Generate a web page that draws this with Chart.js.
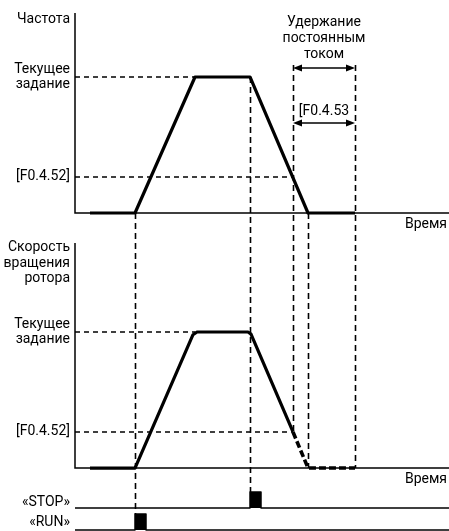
<!DOCTYPE html>
<html>
<head>
<meta charset="utf-8">
<script src="https://cdn.jsdelivr.net/npm/chart.js@4.4.1/dist/chart.umd.min.js"></script>
<style>
	html, body { margin: 0; padding: 0; background: #fff; }
	canvas { display: block; }
</style>
</head>
<body>
<canvas id="diagram" width="449" height="531"></canvas>
<script>
/* Frequency / rotor speed diagram with DC hold — Chart.js */
/* global Chart */

(function () {
	'use strict';

	// ── Data ─────────────────────────────────────────────────────────────────

	var T_END = 37.4; // right end of the time axis

	// Output frequency.
	var freqT = [1.5, 6, 12, 17.5, 23.3, 28];
	var freqV = [0, 0, 1, 1, 0, 0];

	// Rotor speed: driven part, then coasting + DC hold.
	var speedT = [1.5, 6, 11.8, 12.2, 17.3, 17.6, 21.8];
	var speedV = [0, 0, 0.98, 1, 1, 0.985, 0.265];
	var coastT = [21.8, 23.3, 28];
	var coastV = [0.265, 0, 0];

	// Reference levels and where their dashed guides end.
	var levelSet   = 1;      // Текущее задание
	var levelF0452 = 0.265;  // [F0.4.52]
	var setEndT    = 12;
	var f0452EndT  = 21.8;

	// Commands.
	var stopT = [0, 17.5, 17.5, 18.6, 18.6, T_END];
	var stopV = [1.375, 1.375, 2.375, 2.375, 1.375, 1.375];
	var runT  = [0, 6, 6, 7.1, 7.1, T_END];
	var runV  = [0, 0, 1, 1, 0, 0];

	// Axis labels (tick value → text).
	var freqTicks   = [1.42, 1, 0.265];
	var freqLabels  = ['Частота', ['Текущее', 'задание'], '[F0.4.52]'];
	var speedTicks  = [1.507, 1, 0.265];
	var speedLabels = [['Скорость', 'вращения', 'ротора'], ['Текущее', 'задание'], '[F0.4.52]'];
	var cmdTicks    = [1.69, 0.44];
	var cmdLabels   = ['«STOP»', '«RUN»'];

	// Vertical dashed event markers.
	var markerT    = [6, 17.5, 21.8, 23.3, 28];
	var markerFrom = [['yF', 0], ['yF', 1], ['yF', 1.088], ['yF', 0], ['yF', 1.088]];
	var markerTo   = [['yC', 1], ['yC', 2.375], ['yS', 0.265], ['yS', 0], ['yS', 0]];

	// DC hold interval arrows.
	var holdT      = [21.8, 28];
	var holdArrowV = [1.066, 0.662];

	// ── Helpers ──────────────────────────────────────────────────────────────

	var FONT = 'Roboto, "DejaVu Sans Condensed", sans-serif';

	function pts(xs, ys) {
		return xs.map(function (x, i) { return { x: x, y: ys[i] }; });
	}

	function line(axis, data, width, dash, extra) {
		var ds = {
			data: data,
			yAxisID: axis,
			borderColor: '#000',
			backgroundColor: '#000',
			borderWidth: width,
			borderDash: dash || [],
			pointRadius: 0,
			tension: 0,
			fill: false,
			borderJoinStyle: 'round'
		};
		for (var k in extra || {}) ds[k] = extra[k];
		return ds;
	}

	function yAxis(weight, stackWeight, min, max, ticks, labels) {
		return {
			type: 'linear',
			position: 'left',
			stack: 'panels',
			stackWeight: stackWeight,
			weight: weight,
			min: min,
			max: max,
			grid: { display: false, drawTicks: false },
			border: { display: false },
			afterFit: function (scale) {
				// Fixed gutter, and no extra room for the end labels.
				scale.width = 75;
				scale.paddingTop = 0;
				scale.paddingBottom = 0;
			},
			afterBuildTicks: function (scale) {
				scale.ticks = ticks.map(function (v) { return { value: v }; });
			},
			ticks: {
				autoSkip: false,
				padding: 5,
				color: '#000',
				font: { family: FONT, size: 14, lineHeight: 1.1 },
				callback: function (value) {
					var i = ticks.indexOf(value);
					return i === -1 ? '' : labels[i];
				}
			}
		};
	}

	function arrowHead(ctx, x, y, dir) {
		ctx.beginPath();
		ctx.moveTo(x, y);
		ctx.lineTo(x - dir * 9, y - 3.5);
		ctx.lineTo(x - dir * 9, y + 3.5);
		ctx.closePath();
		ctx.fill();
	}

	// ── Frames, markers, annotations ─────────────────────────────────────────

	var diagramPlugin = {
		id: 'diagram',
		beforeDatasetsDraw: function (chart) {
			var ctx = chart.ctx, sx = chart.scales.x, area = chart.chartArea;
			ctx.save();
			ctx.strokeStyle = '#000';

			// Panel axes.
			ctx.lineWidth = 1.5;
			[['yF', 1.47], ['yS', 1.654]].forEach(function (p) {
				var s = chart.scales[p[0]];
				var y0 = s.getPixelForValue(0);
				ctx.beginPath();
				ctx.moveTo(area.left, s.getPixelForValue(p[1]));
				ctx.lineTo(area.left, y0);
				ctx.lineTo(area.right, y0);
				ctx.stroke();
			});

			// Event markers.
			ctx.lineWidth = 1.6;
			ctx.setLineDash([6, 4]);
			markerT.forEach(function (t, i) {
				var x = Math.round(sx.getPixelForValue(t)) + 0.5;
				ctx.beginPath();
				ctx.moveTo(x, chart.scales[markerFrom[i][0]].getPixelForValue(markerFrom[i][1]));
				ctx.lineTo(x, chart.scales[markerTo[i][0]].getPixelForValue(markerTo[i][1]));
				ctx.stroke();
			});
			ctx.restore();
		},
		afterDatasetsDraw: function (chart) {
			var ctx = chart.ctx, sx = chart.scales.x, area = chart.chartArea;
			var yF = chart.scales.yF, yS = chart.scales.yS;
			var x1 = sx.getPixelForValue(holdT[0]), x2 = sx.getPixelForValue(holdT[1]);
			ctx.save();
			ctx.fillStyle = '#000';
			ctx.strokeStyle = '#000';
			ctx.lineWidth = 1.5;

			holdArrowV.forEach(function (v) {
				var y = yF.getPixelForValue(v);
				ctx.beginPath();
				ctx.moveTo(x1 + 4, y);
				ctx.lineTo(x2 - 4, y);
				ctx.stroke();
				arrowHead(ctx, x1, y, -1);
				arrowHead(ctx, x2, y, 1);
			});

			ctx.font = '14px ' + FONT;
			ctx.textBaseline = 'middle';
			ctx.textAlign = 'center';
			var cx = (x1 + x2) / 2;
			ctx.fillText('Удержание', cx, 22);
			ctx.fillText('постоянным', cx, 38);
			ctx.fillText('током', cx, 54);
			ctx.fillText('[F0.4.53', cx, yF.getPixelForValue(holdArrowV[1]) - 11);

			ctx.textAlign = 'right';
			ctx.fillText('Время', area.right - 2, yF.getPixelForValue(0) + 12);
			ctx.fillText('Время', area.right - 2, yS.getPixelForValue(0) + 11);
			ctx.restore();
		}
	};

	// ── Chart ────────────────────────────────────────────────────────────────

	new Chart(document.getElementById('diagram'), {
		type: 'line',
		data: {
			datasets: [
				line('yF', pts(freqT, freqV), 3.2),
				line('yF', pts([0, setEndT], [levelSet, levelSet]), 1.6, [5, 4]),
				line('yF', pts([0, f0452EndT], [levelF0452, levelF0452]), 1.6, [5, 4]),
				line('yS', pts(speedT, speedV), 3.2),
				line('yS', pts(coastT, coastV), 3.6, [7, 3]),
				line('yS', pts([0, setEndT], [levelSet, levelSet]), 1.6, [5, 4]),
				line('yS', pts([0, f0452EndT], [levelF0452, levelF0452]), 1.6, [5, 4]),
				line('yC', pts(stopT, stopV), 1.5, null, { fill: { value: 1.375 } }),
				line('yC', pts(runT, runV), 1.5, null, { fill: { value: 0 } })
			]
		},
		options: {
			responsive: false,
			devicePixelRatio: 1,
			animation: false,
			layout: { padding: 0 },
			plugins: { legend: { display: false }, tooltip: { enabled: false } },
			scales: {
				x: { type: 'linear', min: 0, max: T_END, display: false },
				yF: yAxis(3, 230, -0.125, 1.566, freqTicks, freqLabels),
				yS: yAxis(2, 250, -0.088, 1.75, speedTicks, speedLabels),
				yC: yAxis(1, 51, -0.0625, 3.125, cmdTicks, cmdLabels)
			}
		},
		plugins: [diagramPlugin]
	});

}());
</script>
</body>
</html>
